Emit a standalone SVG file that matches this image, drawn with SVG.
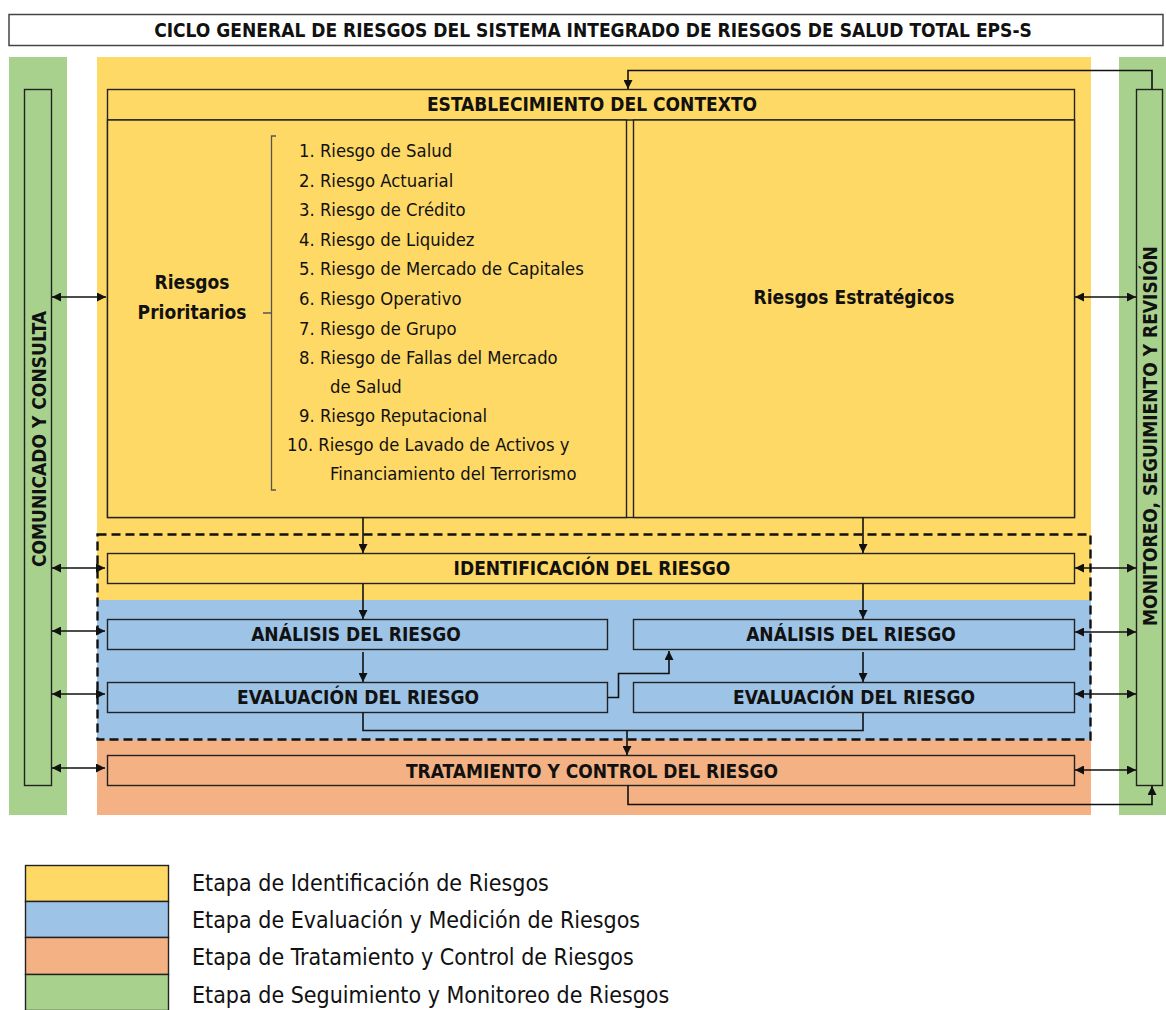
<svg xmlns="http://www.w3.org/2000/svg" width="1166" height="1010" viewBox="0 0 1166 1010">
<defs>
<style>
text{font-family:"DejaVu Sans Condensed","DejaVu Sans",sans-serif;font-stretch:condensed;fill:#111}
.h{font-size:19px;font-weight:bold;text-anchor:middle}
.li{font-size:18.3px}
.lg{font-size:23px}
.box{stroke:#222;stroke-width:1.4}
.y{fill:#FFD966}.bl{fill:#9DC3E6}.o{fill:#F4B183}.g{fill:#A9D18E}
.c{fill:none;stroke:#111;stroke-width:1.6}
</style>
<marker id="ah" viewBox="0 0 10 10" refX="10" refY="5" markerWidth="10" markerHeight="9" markerUnits="userSpaceOnUse" orient="auto-start-reverse"><path d="M0,0 L10,5 L0,10 z" fill="#111"/></marker>
</defs>
<rect width="1166" height="1010" fill="#fff"/>
<g id="title"><rect x="9" y="14.5" width="1154" height="31" fill="#fff" stroke="#444" stroke-width="1.5"/>
<text class="h" x="593" y="37">CICLO GENERAL DE RIESGOS DEL SISTEMA INTEGRADO DE RIESGOS DE SALUD TOTAL EPS-S</text></g>
<g id="bands">
<rect class="g" x="9" y="57" width="58" height="758"/>
<rect class="g" x="1119" y="57" width="47" height="758"/>
<rect class="y" x="97" y="57" width="994" height="543"/>
<rect class="bl" x="97" y="600" width="994" height="140"/>
<rect class="o" x="97" y="740" width="994" height="75"/>
</g>
<g id="comunicado"><rect class="box g" x="24.5" y="89.5" width="27" height="696"/>
<text class="h" font-size="20" transform="translate(46,439) rotate(-90)">COMUNICADO Y CONSULTA</text></g>
<g id="monitoreo"><rect class="box g" x="1136.5" y="89.5" width="26" height="696"/>
<text class="h" font-size="19.3" transform="translate(1157,436) rotate(-90)">MONITOREO, SEGUIMIENTO Y REVISIÓN</text></g>
<g id="contexto"><rect class="box y" x="107.5" y="89.5" width="967" height="428"/>
<line class="box" x1="107.5" y1="120" x2="1074.5" y2="120"/>
<text class="h" x="592" y="111">ESTABLECIMIENTO DEL CONTEXTO</text></g>
<g id="prioritarios"><rect class="box y" x="107.5" y="120" width="519" height="397.5"/>
<text class="h" x="192" y="289" font-size="21">Riesgos</text>
<text class="h" x="192" y="319" font-size="21">Prioritarios</text>
<path d="M276,136 H271.5 V490 H276 M271.5,313 H263" fill="none" stroke="#555" stroke-width="1.3"/>
<g class="li">
<text x="299" y="157">1. Riesgo de Salud</text>
<text x="299" y="187">2. Riesgo Actuarial</text>
<text x="299" y="216">3. Riesgo de Crédito</text>
<text x="299" y="246">4. Riesgo de Liquidez</text>
<text x="299" y="275">5. Riesgo de Mercado de Capitales</text>
<text x="299" y="305">6. Riesgo Operativo</text>
<text x="299" y="335">7. Riesgo de Grupo</text>
<text x="299" y="364">8. Riesgo de Fallas del Mercado</text>
<text x="330" y="393">de Salud</text>
<text x="299" y="422">9. Riesgo Reputacional</text>
<text x="287" y="451">10. Riesgo de Lavado de Activos y</text>
<text x="330" y="480">Financiamiento del Terrorismo</text>
</g></g>
<g id="estrategicos"><rect class="box y" x="633.5" y="120" width="441" height="397.5"/>
<text class="h" x="854" y="304" font-size="20.5">Riesgos Estratégicos</text></g>
<g id="etapa-identificacion-evaluacion"><rect x="97.5" y="534.5" width="993" height="205" fill="none" stroke="#111" stroke-width="2.4" stroke-dasharray="9 5"/></g>
<g id="identificacion"><rect class="box y" x="107.5" y="553.5" width="967" height="30"/>
<text class="h" x="592" y="575">IDENTIFICACIÓN DEL RIESGO</text></g>
<g id="analisis-1"><rect class="box bl" x="107.5" y="619.5" width="500" height="30"/>
<text class="h" x="356" y="641">ANÁLISIS DEL RIESGO</text></g>
<g id="analisis-2"><rect class="box bl" x="633.5" y="619.5" width="441" height="30"/>
<text class="h" x="851" y="641">ANÁLISIS DEL RIESGO</text></g>
<g id="evaluacion-1"><rect class="box bl" x="107.5" y="682.5" width="500" height="30"/>
<text class="h" x="358" y="704">EVALUACIÓN DEL RIESGO</text></g>
<g id="evaluacion-2"><rect class="box bl" x="633.5" y="682.5" width="441" height="30"/>
<text class="h" x="854" y="704">EVALUACIÓN DEL RIESGO</text></g>
<g id="tratamiento"><rect class="box o" x="107.5" y="755.5" width="967" height="30"/>
<text class="h" x="592" y="777.5">TRATAMIENTO Y CONTROL DEL RIESGO</text></g>
<g id="connectors">
<path class="c" d="M1152,89 V70.5 H628 V89" marker-end="url(#ah)"/>
<path class="c" d="M363,517.5 V553" marker-end="url(#ah)"/>
<path class="c" d="M863,517.5 V553" marker-end="url(#ah)"/>
<path class="c" d="M363,583.5 V619" marker-end="url(#ah)"/>
<path class="c" d="M863,583.5 V619" marker-end="url(#ah)"/>
<path class="c" d="M363,652 V682" marker-end="url(#ah)"/>
<path class="c" d="M863,652 V682" marker-end="url(#ah)"/>
<path class="c" d="M607.5,697.5 H618.5 V673.5 H669 V651" marker-end="url(#ah)"/>
<path class="c" d="M363,712.5 V730.5 H863 V712.5"/>
<path class="c" d="M627,730.5 V755" marker-end="url(#ah)"/>
<path class="c" d="M628,785.5 V804.5 H1152 V786" marker-end="url(#ah)"/>
<path class="c" d="M52,297 H106" marker-start="url(#ah)" marker-end="url(#ah)"/>
<path class="c" d="M52,568 H105" marker-start="url(#ah)" marker-end="url(#ah)"/>
<path class="c" d="M52,631 H105" marker-start="url(#ah)" marker-end="url(#ah)"/>
<path class="c" d="M52,694 H105" marker-start="url(#ah)" marker-end="url(#ah)"/>
<path class="c" d="M52,768 H105" marker-start="url(#ah)" marker-end="url(#ah)"/>
<path class="c" d="M1075,297 H1136" marker-start="url(#ah)" marker-end="url(#ah)"/>
<path class="c" d="M1075,568 H1136" marker-start="url(#ah)" marker-end="url(#ah)"/>
<path class="c" d="M1075,632 H1136" marker-start="url(#ah)" marker-end="url(#ah)"/>
<path class="c" d="M1075,694 H1136" marker-start="url(#ah)" marker-end="url(#ah)"/>
<path class="c" d="M1075,770 H1136" marker-start="url(#ah)" marker-end="url(#ah)"/>
</g>
<g id="legend">
<rect class="box y" x="25.5" y="865.5" width="143" height="36"/>
<rect class="box bl" x="25.5" y="901.5" width="143" height="36"/>
<rect class="box o" x="25.5" y="937.5" width="143" height="37"/>
<rect class="box g" x="25.5" y="974.5" width="143" height="36"/>
<text class="lg" x="192" y="891">Etapa de Identificación de Riesgos</text>
<text class="lg" x="192" y="928">Etapa de Evaluación y Medición de Riesgos</text>
<text class="lg" x="192" y="965">Etapa de Tratamiento y Control de Riesgos</text>
<text class="lg" x="192" y="1003">Etapa de Seguimiento y Monitoreo de Riesgos</text>
</g>
</svg>
